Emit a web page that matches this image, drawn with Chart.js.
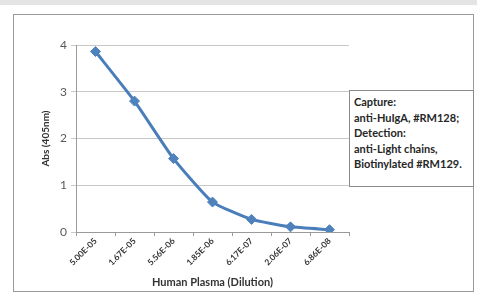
<!DOCTYPE html>
<html>
<head>
<meta charset="utf-8">
<script src="https://cdn.jsdelivr.net/npm/chart.js@4"></script>
<style>
  html, body { margin: 0; padding: 0; background: #fff; }
  #page { position: relative; width: 477px; height: 304px; overflow: hidden; }
  #topband { position: absolute; left: 0; top: 0; width: 477px; height: 5px; background: #e4e4e4; }
  #frame { position: absolute; left: 13px; top: 14px; width: 459px; height: 276px; border: 1px solid #9a9a9a; }
  #chart-div { position: absolute; left: 0; top: 0; width: 477px; height: 304px; }
  #note {
    position: absolute; left: 349px; top: 90px; width: 119px; height: 88px;
    border: 1px solid #8c8c8c; background: #fff; padding: 3px 0 4px 4px;
    font-family: Lato, "Open Sans", sans-serif; font-weight: bold; font-size: 11px;
    line-height: 15.5px; color: #262626; white-space: nowrap;
  }
</style>
</head>
<body>
<div id="page">
  <div id="topband"></div>
  <div id="frame"></div>
  <div id="chart-div"><canvas id="dilution-chart" width="477" height="304"></canvas></div>
  <div id="note">Capture:<br>anti-HuIgA, #RM128;<br>Detection:<br>anti-Light chains,<br>Biotinylated #RM129.</div>
</div>
<script>
// dilutions on the x axis
const dilutions = ['5.00E-05', '1.67E-05', '5.56E-06', '1.85E-06', '6.17E-07', '2.06E-07', '6.86E-08'];
// absorbance readings
const absValues = [3.86, 2.80, 1.57, 0.64, 0.27, 0.11, 0.05];
const yTicks = [0, 1, 2, 3, 4];

const lineBlue = '#4a7ebb';

const chartElement = document.getElementById('dilution-chart').getContext('2d');
new Chart(chartElement, {
  type: 'line',
  data: {
    labels: dilutions,
    datasets: [{
      label: 'Abs',
      data: absValues,
      borderColor: lineBlue,
      backgroundColor: '#4f81bd',
      borderWidth: 3,
      pointStyle: 'rectRot',
      pointRadius: 5,
      pointBorderWidth: 1,
      pointBorderColor: '#4f81bd',
      tension: 0.15
    }]
  },
  options: {
    responsive: false,
    animation: false,
    layout: { padding: { left: 40, top: 45, right: 128, bottom: 15 } },
    plugins: { legend: { display: false }, tooltip: { enabled: false } },
    scales: {
      x: {
        offset: true,
        afterFit: (axis) => { axis.height = 57; },
        grid: { display: true, drawOnChartArea: false, offset: true, tickLength: 4, color: '#9a9a9a' },
        border: { color: '#9a9a9a' },
        ticks: {
          minRotation: 45, maxRotation: 45, padding: 0,
          color: '#333',
          font: { family: 'Lato', size: 8.5, weight: 'bold' }
        },
        title: {
          display: true, text: 'Human Plasma (Dilution)', color: '#333',
          font: { family: 'Lato', size: 11, weight: 'bold' }, padding: { top: 0, bottom: 0 }
        }
      },
      y: {
        min: 0, max: 4,
        afterFit: (axis) => { axis.width = 36; },
        afterBuildTicks: (axis) => { axis.ticks = yTicks.map(v => ({ value: v })); },
        grid: { color: '#c8c8c8', tickLength: 5 },
        border: { color: '#9a9a9a' },
        ticks: {
          color: '#595959', padding: 4,
          font: { family: 'Lato', size: 12 }
        },
        title: {
          display: true, text: 'Abs (405nm)', color: '#333',
          font: { family: 'Lato', size: 10, weight: 'bold' }, padding: { top: 0, bottom: 0 }
        }
      }
    }
  }
});
</script>
</body>
</html>
